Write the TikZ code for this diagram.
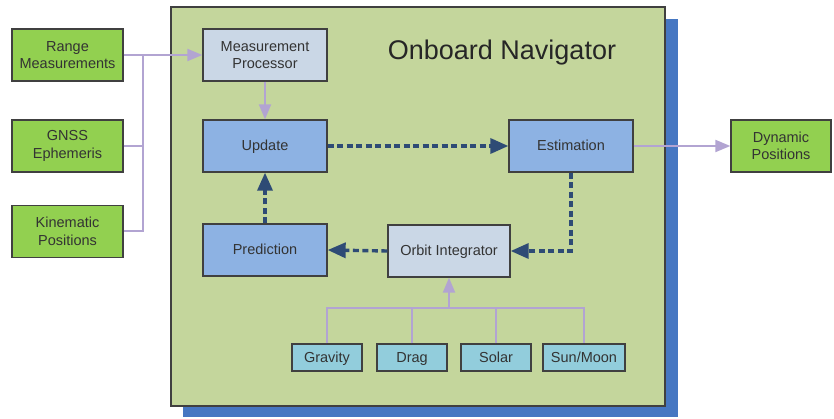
\documentclass[tikz,border=0pt]{standalone}
\usepackage{fontspec}
\setmainfont{Liberation Sans}
\usetikzlibrary{arrows.meta}
\definecolor{navgreen}{HTML}{C4D69C}
\definecolor{shadowblue}{HTML}{4677C2}
\definecolor{iogreen}{HTML}{92D050}
\definecolor{procgray}{HTML}{CAD7E6}
\definecolor{coreblue}{HTML}{8DB2E3}
\definecolor{forcecyan}{HTML}{92CDDC}
\definecolor{linklav}{HTML}{B2A4D2}
\definecolor{flowblue}{HTML}{2E4B75}
\definecolor{textgray}{HTML}{333333}
\tikzset{
  box/.style={draw=black!75, line width=1.3pt, text=textgray, align=center,
    font=\fontsize{14.5}{17.5}\selectfont, inner sep=0pt},
  oneline/.style={text height=11pt, text depth=1pt},
  iobox/.style={box, fill=iogreen, minimum width=111pt, minimum height=52pt},
  procbox/.style={box, fill=procgray, minimum width=124pt, minimum height=52pt},
  corebox/.style={box, oneline, fill=coreblue, minimum width=124pt, minimum height=52pt},
  forcebox/.style={box, oneline, fill=forcecyan, minimum height=27pt},
  link/.style={draw=linklav, line width=2pt},
  linkarrow/.style={link, -{Triangle[length=15pt,width=12pt]}},
  flow/.style={draw=flowblue, line width=3.4pt, dash pattern=on 6pt off 3.5pt,
    -{Triangle[length=18pt,width=15pt]}},
}
\begin{document}
\begin{tikzpicture}[x=1pt,y=-1pt]
\useasboundingbox (0,0) rectangle (834,419);
% navigator frame with its shadow
\fill[shadowblue] (183,19) rectangle (678,417);
\draw[fill=navgreen, draw=black!75, line width=1.2pt] (171,7) rectangle (665,406);
\node[text=black!85, font=\fontsize{27}{30}\selectfont] (title) at (502,53) {Onboard Navigator};

% inputs and output
\node[iobox] (range) at (67.5,55) {Range\\Measurements};
\node[iobox] (gnss) at (67.5,146) {GNSS\\Ephemeris};
\node[iobox] (kin) at (67.5,231.5) {Kinematic\\Positions};
\node[iobox, minimum width=100pt] (dyn) at (781,146) {Dynamic\\Positions};

% processing blocks
\node[procbox] (meas) at (265,55) {Measurement\\Processor};
\node[corebox] (upd) at (265,146) {Update};
\node[corebox] (est) at (571,146) {Estimation};
\node[corebox] (pred) at (265,250) {Prediction};
\node[procbox, oneline, minimum width=122pt] (orb) at (449,251) {Orbit Integrator};

% force models
\node[forcebox, minimum width=70pt] (grav) at (327,357.5) {Gravity};
\node[forcebox, minimum width=70pt] (drag) at (412,357.5) {Drag};
\node[forcebox, minimum width=70pt] (solar) at (496,357.5) {Solar};
\node[forcebox, minimum width=82pt] (sun) at (584,357.5) {Sun/Moon};

% measurement inputs
\coordinate (trunk) at (143,55);
\draw[link] (gnss.east) -- (gnss.east -| trunk);
\draw[link] (kin.east) -| (trunk);
\draw[linkarrow] (range.east) -- (meas.west);
\draw[linkarrow] (meas.south) -- (upd.north);
\draw[linkarrow] (est.east) -- (dyn.west);

% force bus
\coordinate (bus) at (449,308);
\draw[link] (grav.north) |- (sun.north |- bus) -- (sun.north);
\draw[link] (drag.north) -- (drag.north |- bus);
\draw[link] (solar.north) -- (solar.north |- bus);
\draw[linkarrow] (bus) -- (orb.south);

% estimation loop
\draw[flow] (upd.east) -- (est.west);
\draw[flow] (est.south) |- (orb.east);
\draw[flow] (orb.west) -- (pred.east);
\draw[flow] (pred.north) -- (upd.south);
\end{tikzpicture}
\end{document}
